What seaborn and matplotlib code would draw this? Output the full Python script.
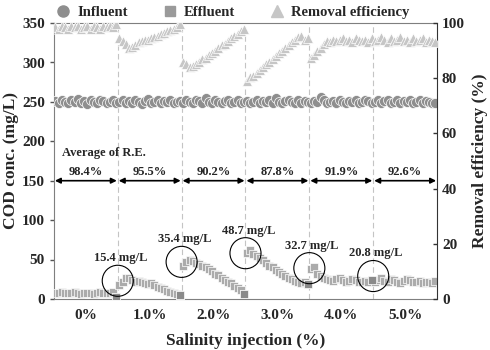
import numpy as np
import pandas as pd
import seaborn as sns
import matplotlib.pyplot as plt
from matplotlib.lines import Line2D

# salinity phases (each phase = 20 samples)
phases = ['0%', '1.0%', '2.0%', '3.0%', '4.0%', '5.0%']
avg_re = ['98.4%', '95.5%', '90.2%', '87.8%', '91.9%', '92.6%']
peak_labels = ['15.4 mg/L', '35.4 mg/L', '48.7 mg/L', '32.7 mg/L', '20.8 mg/L']
peak_y = [23, 47, 58, 39, 29]

influent = [
    251, 249, 253, 250, 248, 252, 250, 254, 249, 251, 247, 252, 250, 249, 253, 251, 248, 250, 252, 249,
    250, 253, 248, 251, 249, 252, 250, 247, 251, 254, 249, 250, 252, 248, 251, 250, 253, 249, 250, 251,
    249, 252, 250, 248, 253, 251, 249, 255, 250, 248, 252, 250, 249, 251, 253, 248, 250, 252, 249, 250,
    251, 248, 250, 253, 249, 251, 250, 252, 248, 255, 250, 249, 251, 253, 250, 248, 252, 249, 251, 250,
    249, 251, 250, 256, 252, 248, 250, 251, 249, 253, 250, 248, 251, 250, 252, 249, 250, 253, 251, 249,
    250, 252, 248, 251, 253, 249, 250, 252, 248, 251, 250, 253, 249, 250, 252, 248, 251, 250, 249, 248,
]
effluent = [
    8, 7, 9, 8, 7, 8, 9, 7, 6, 8, 7, 8, 6, 7, 9, 8, 7, 8, 9, 3,
    18, 22, 26, 27, 24, 22, 23, 21, 20, 19, 20, 18, 15, 14, 12, 10, 9, 8, 6, 5,
    42, 47, 50, 48, 46, 44, 42, 40, 38, 35, 32, 30, 27, 24, 22, 20, 17, 14, 11, 6,
    58, 62, 57, 55, 52, 49, 45, 42, 40, 37, 34, 31, 29, 27, 25, 23, 22, 20, 21, 19,
    38, 40, 31, 29, 27, 25, 24, 23, 25, 26, 24, 22, 23, 25, 24, 22, 21, 23, 22, 24,
    22, 24, 26, 23, 21, 25, 24, 22, 20, 23, 25, 24, 22, 21, 23, 20, 22, 21, 20, 23,
]
removal = [
    98.5, 98, 99, 98.5, 98, 99, 98.5, 99, 98, 98.5, 99, 98, 99, 98.5, 98, 99, 98.5, 99, 98.5, 99.5,
    94.5, 93.5, 92.5, 91, 91.5, 92, 93, 93.5, 94, 94, 94.5, 95, 95.5, 96, 96.5, 97, 97.5, 98, 98.5, 99.5,
    86, 85, 84, 84.5, 85, 86, 87, 87.5, 88.5, 89, 90, 91, 92, 92.5, 93.5, 94.5, 95.5, 96, 97, 98,
    79, 80.5, 81, 82, 83, 84, 85, 86, 87, 88, 89, 90, 91, 92, 93, 94, 95, 95.5, 94, 94.5,
    87.5, 88.5, 90, 91, 92.5, 93.5, 93, 94, 93.5, 94, 94.5, 93.5, 94, 93, 94.5, 94, 93.5, 94, 93, 94.5,
    93.5, 94, 95, 94, 93, 94.5, 93.5, 94, 95, 93.5, 94, 93, 94.5, 93.5, 94, 94.5, 93, 94, 93.5, 93,
]

n = 20
df = pd.DataFrame({'day': np.arange(len(influent)), 'influent': influent,
                   'effluent': effluent, 'removal': removal})

sns.set_style('white')
plt.rcParams['font.family'] = ['Liberation Serif', 'DejaVu Serif']
plt.rcParams['font.weight'] = 'bold'

fig = plt.figure(figsize=(4.9, 3.5), dpi=100)
ax = fig.add_axes([0.110, 0.146, 0.782, 0.788])
ax2 = ax.twinx()

sns.scatterplot(data=df, x='day', y='influent', ax=ax, marker='o', s=52,
                color='#8e8e8e', edgecolor='white', linewidth=0.5, zorder=3)
sns.scatterplot(data=df, x='day', y='effluent', ax=ax, marker='s', s=38,
                color='#ababab', edgecolor='white', linewidth=0.5, zorder=3)
ends = df.iloc[n - 1::n][:-1]
sns.scatterplot(data=ends, x='day', y='effluent', ax=ax, marker='s', s=38,
                color='#8a8a8a', edgecolor='white', linewidth=0.5, zorder=4)
sns.scatterplot(data=df, x='day', y='removal', ax=ax2, marker='^', s=50,
                color='#c6c6c6', edgecolor='white', linewidth=0.5, zorder=3)

ax.set_xlim(-0.5, len(influent) - 0.5)
ax.set_ylim(0, 350)
ax2.set_ylim(0, 100)
ax.set_yticks(range(0, 351, 50))
ax2.set_yticks(range(0, 101, 20))

bounds = [k * n - 0.5 for k in range(1, len(phases))]
for b in bounds:
    ax.axvline(b, color='#c4c4c4', lw=0.8, ls=(0, (5, 3)), zorder=1)

ax.set_xticks([k * n + (n - 1) / 2 for k in range(len(phases))])
ax.set_xticklabels(phases)
ax.tick_params(axis='x', length=0, pad=7, labelsize=11)
ax.tick_params(axis='y', direction='out', length=3, width=1, color='#555555', labelsize=11)
ax2.tick_params(axis='y', direction='in', length=3, width=1, color='#333333', labelsize=11)

for sp in ['left', 'bottom', 'top']:
    ax.spines[sp].set_color('#7f7f7f')
    ax2.spines[sp].set_visible(False)
ax.spines['right'].set_visible(False)
ax2.spines['right'].set_color('#333333')

ax.set_xlabel('Salinity injection (%)', fontsize=12.5, fontweight='bold', labelpad=8)
ax.set_ylabel('COD conc. (mg/L)', fontsize=12.5, fontweight='bold', labelpad=2)
ax2.set_ylabel('Removal efficiency (%)', fontsize=12.5, fontweight='bold', labelpad=5)

# average removal efficiency per phase
edges = [-0.5] + bounds + [len(influent) - 0.5]
for k in range(len(phases)):
    ax.annotate('', xy=(edges[k] + 0.3, 150), xytext=(edges[k + 1] - 0.3, 150),
                arrowprops=dict(arrowstyle='<|-|>', color='black', lw=1.2,
                                mutation_scale=8, shrinkA=0, shrinkB=0), zorder=5)
    ax.text((edges[k] + edges[k + 1]) / 2, 154, avg_re[k], ha='center', va='bottom',
            fontsize=9, fontweight='bold')
ax.text(2, 185, 'Average of R.E.', ha='left', va='center', fontsize=9, fontweight='bold')

# effluent peak after each salinity step
for b, lab, yv in zip(bounds, peak_labels, peak_y):
    ax.scatter([b], [yv], s=500, facecolors='none', edgecolors='black', linewidths=0.8, zorder=6)
    ax.annotate(lab, xy=(b, yv), xytext=(2, 12), textcoords='offset points',
                ha='center', va='bottom', fontsize=9, fontweight='bold')

handles = [
    Line2D([], [], ls='none', marker='o', ms=8, color='#8e8e8e', label='Influent'),
    Line2D([], [], ls='none', marker='s', ms=7, color='#9a9a9a', label='Effluent'),
    Line2D([], [], ls='none', marker='^', ms=8, color='#c6c6c6', label='Removal efficiency'),
]
fig.legend(handles=handles, loc='center left', bbox_to_anchor=(0.111, 0.965), ncol=3, frameon=False,
           prop={'size': 10.5, 'weight': 'bold'}, handlelength=1.2, handletextpad=0.35,
           columnspacing=2.3, borderpad=0, borderaxespad=0)

fig.savefig('out.png', dpi=100)
